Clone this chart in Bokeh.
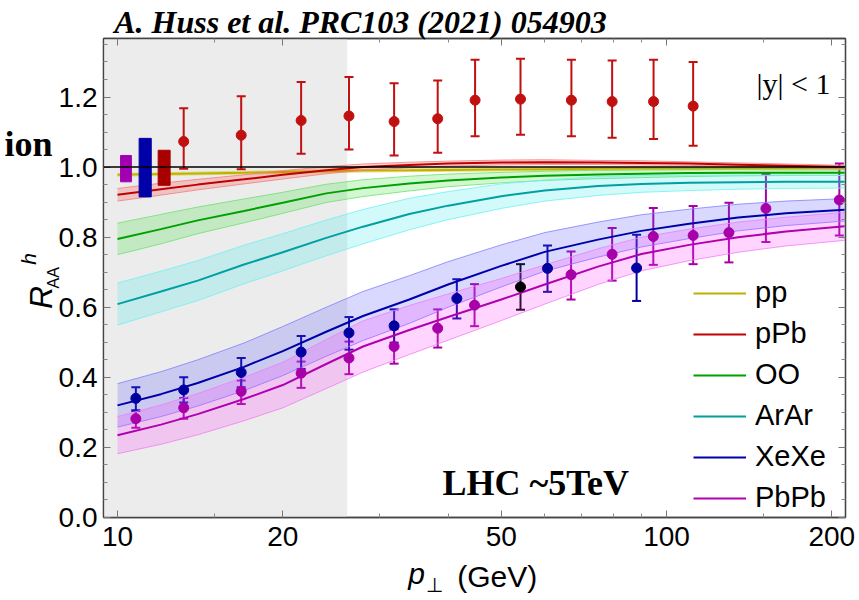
import numpy as np
from bokeh.plotting import figure
from bokeh.models import (LogAxis, LinearAxis, FixedTicker, PrintfTickFormatter, Label,
                          Span, BoxAnnotation, Whisker, TeeHead, ColumnDataSource, Legend,
                          LegendItem, Range1d)
from bokeh.embed import file_html
from bokeh.resources import INLINE

# ---------------- data ----------------
pt_curve = [10, 12, 14, 17, 20, 24, 28, 34, 40, 50, 60, 75, 90, 110, 135, 165, 211]

pp_c   = [0.978, 0.980, 0.982, 0.984, 0.986, 0.988, 0.990, 0.991, 0.992, 0.993, 0.994, 0.995, 0.996, 0.996, 0.997, 0.997, 0.997]
pp_hw  = [0.004] * 17

ppb_c  = [0.921, 0.937, 0.950, 0.965, 0.978, 0.991, 1.000, 1.006, 1.010, 1.013, 1.014, 1.013, 1.012, 1.010, 1.007, 1.004, 1.000]
ppb_hw = [0.018, 0.017, 0.015, 0.013, 0.012, 0.010, 0.009, 0.008, 0.007, 0.007, 0.007, 0.006, 0.006, 0.005, 0.005, 0.005, 0.005]

oo_c   = [0.795, 0.823, 0.848, 0.875, 0.898, 0.925, 0.940, 0.953, 0.962, 0.970, 0.975, 0.979, 0.981, 0.983, 0.984, 0.984, 0.984]
oo_hw  = [0.045, 0.042, 0.038, 0.034, 0.030, 0.026, 0.024, 0.021, 0.018, 0.015, 0.013, 0.012, 0.011, 0.010, 0.009, 0.008, 0.008]

arar_c  = [0.609, 0.645, 0.676, 0.722, 0.757, 0.798, 0.830, 0.866, 0.890, 0.917, 0.933, 0.946, 0.952, 0.955, 0.957, 0.958, 0.958]
arar_hw = [0.060, 0.058, 0.057, 0.055, 0.053, 0.051, 0.049, 0.045, 0.040, 0.035, 0.030, 0.027, 0.024, 0.022, 0.020, 0.019, 0.018]

xexe_c  = [0.320, 0.352, 0.384, 0.430, 0.475, 0.530, 0.575, 0.622, 0.665, 0.718, 0.758, 0.793, 0.818, 0.838, 0.856, 0.868, 0.878]
xexe_hw = [0.062, 0.064, 0.066, 0.068, 0.070, 0.070, 0.070, 0.068, 0.065, 0.060, 0.055, 0.050, 0.046, 0.042, 0.038, 0.035, 0.032]

pbpb_c  = [0.235, 0.265, 0.295, 0.338, 0.378, 0.438, 0.488, 0.535, 0.572, 0.622, 0.665, 0.716, 0.752, 0.778, 0.800, 0.816, 0.831]
pbpb_hw = [0.053, 0.056, 0.059, 0.062, 0.065, 0.070, 0.073, 0.070, 0.066, 0.060, 0.056, 0.051, 0.048, 0.045, 0.043, 0.041, 0.040]

# data points
ppb_pt  = [13.2, 16.8, 21.6, 26.4, 31.9, 38.3, 44.8, 54.2, 67.1, 79.6, 94.7, 111.8]
ppb_val = [1.073, 1.091, 1.133, 1.146, 1.130, 1.138, 1.191, 1.194, 1.191, 1.187, 1.187, 1.174]
ppb_lo  = [0.995, 0.994, 1.038, 1.050, 1.033, 1.041, 1.088, 1.092, 1.088, 1.084, 1.080, 1.061]
ppb_hi  = [1.168, 1.202, 1.243, 1.257, 1.239, 1.247, 1.306, 1.309, 1.306, 1.304, 1.306, 1.300]

xexe_pt  = [10.8, 13.2, 16.8, 21.6, 26.4, 31.9, 41.5, 60.7, 88.2]
xexe_val = [0.340, 0.364, 0.414, 0.472, 0.527, 0.547, 0.625, 0.711, 0.712]
xexe_lo  = [0.306, 0.328, 0.372, 0.424, 0.479, 0.499, 0.568, 0.644, 0.618]
xexe_hi  = [0.372, 0.400, 0.455, 0.518, 0.572, 0.594, 0.680, 0.776, 0.807]

pbpb_pt  = [10.8, 13.2, 16.8, 21.6, 26.4, 31.9, 38.3, 44.7, 67.0, 79.6, 94.6, 111.8, 129.9, 151.7, 206.4]
pbpb_val = [0.282, 0.313, 0.360, 0.412, 0.455, 0.488, 0.540, 0.606, 0.693, 0.751, 0.802, 0.805, 0.813, 0.882, 0.906]
pbpb_lo  = [0.256, 0.282, 0.324, 0.370, 0.409, 0.439, 0.485, 0.546, 0.622, 0.676, 0.721, 0.723, 0.728, 0.786, 0.805]
pbpb_hi  = [0.304, 0.341, 0.391, 0.445, 0.502, 0.537, 0.594, 0.666, 0.759, 0.826, 0.883, 0.889, 0.898, 0.980, 1.010]

other_pt  = [54.2]
other_val = [0.658]
other_lo  = [0.593]
other_hi  = [0.723]

# normalisation boxes (PbPb, XeXe, pPb)
norm_left   = [10.13, 10.95, 11.86]
norm_right  = [10.60, 11.52, 12.47]
norm_bottom = [0.958, 0.915, 0.948]
norm_top    = [1.033, 1.082, 1.048]
norm_colors = ["#a000b0", "#0000a8", "#a80000"]

shade_upto = 26.2

systems = ["pp", "pPb", "OO", "ArAr", "XeXe", "PbPb"]
x_major = [10, 20, 50, 100, 200]
x_minor = [15, 30, 40, 60, 70, 80, 90, 150]
y_major = [0.0, 0.2, 0.4, 0.6, 0.8, 1.0, 1.2]
y_minor = [0.05, 0.1, 0.15, 0.25, 0.3, 0.35, 0.45, 0.5, 0.55, 0.65, 0.7, 0.75,
           0.85, 0.9, 0.95, 1.05, 1.1, 1.15, 1.25, 1.3, 1.35]

title_text = "A. Huss et al. PRC103 (2021) 054903"

# ---------------- figure ----------------
p = figure(width=859, height=600, x_axis_type="log",
           x_range=Range1d(9.43, 211.8), y_range=Range1d(0, 1.367),
           output_backend="svg", toolbar_location=None,
           min_border_left=103, min_border_right=14, min_border_top=35, min_border_bottom=83)
p.xgrid.visible = False
p.ygrid.visible = False
p.outline_line_color = "#444444"
p.outline_line_width = 1.3
p.background_fill_color = "white"

p.add_layout(BoxAnnotation(right=shade_upto, fill_color="#ececec", fill_alpha=1.0,
                           line_alpha=0, level="underlay"))

band_fill = ["#e0e000", "#ff3030", "#30e030", "#30e8e8", "#5050ff", "#ff40ff"]
band_edge = ["#d8d860", "#f08080", "#70e070", "#70f0f0", "#8080ff", "#f080f0"]
line_col  = ["#c0b000", "#c00000", "#00a000", "#00a0a0", "#0000a8", "#b000b0"]
centers = [pp_c, ppb_c, oo_c, arar_c, xexe_c, pbpb_c]
halfws = [pp_hw, ppb_hw, oo_hw, arar_hw, xexe_hw, pbpb_hw]

line_renderers = []
for name, c, hw, bf, be, lc in zip(systems, centers, halfws, band_fill, band_edge, line_col):
    c = np.array(c)
    hw = np.array(hw)
    p.varea(x=pt_curve, y1=c - hw, y2=c + hw, fill_color=bf, fill_alpha=0.22)
    p.line(pt_curve, c - hw, line_color=be, line_width=1, line_alpha=0.8)
    p.line(pt_curve, c + hw, line_color=be, line_width=1, line_alpha=0.8)
    r = p.line(pt_curve, c, line_color=lc, line_width=2)
    line_renderers.append(r)

p.add_layout(Span(location=1.0, dimension="width", line_color="black", line_width=1.5))

p.quad(left=norm_left, right=norm_right, bottom=norm_bottom, top=norm_top,
       fill_color=norm_colors, line_color=norm_colors)

def points(xs, ys, lo, hi, color):
    src = ColumnDataSource(dict(x=xs, y=ys, lo=lo, hi=hi))
    w = Whisker(source=src, base="x", lower="lo", upper="hi", line_color=color, line_width=2,
                upper_head=TeeHead(size=9, line_color=color, line_width=2),
                lower_head=TeeHead(size=9, line_color=color, line_width=2))
    p.add_layout(w)
    p.scatter("x", "y", source=src, size=10, marker="circle", fill_color=color, line_color=color)

points(ppb_pt, ppb_val, ppb_lo, ppb_hi, "#c01010")
points(pbpb_pt, pbpb_val, pbpb_lo, pbpb_hi, "#a800a8")
points(xexe_pt, xexe_val, xexe_lo, xexe_hi, "#0000a0")
points(other_pt, other_val, other_lo, other_hi, "#000000")

# ---------------- axes ----------------
def style_ticks(ax):
    ax.axis_line_color = "#444444"
    ax.axis_line_width = 1.3
    ax.major_tick_in = 7
    ax.major_tick_out = 0
    ax.minor_tick_in = 4
    ax.minor_tick_out = 0
    ax.major_tick_line_color = "#777777"
    ax.minor_tick_line_color = "#888888"

xaxis = p.xaxis[0]
yaxis = p.yaxis[0]
xaxis.ticker = FixedTicker(ticks=x_major, minor_ticks=x_minor)
xaxis.formatter = PrintfTickFormatter(format="%d")
yaxis.ticker = FixedTicker(ticks=y_major, minor_ticks=y_minor)
yaxis.formatter = PrintfTickFormatter(format="%.1f")
for ax in (xaxis, yaxis):
    style_ticks(ax)
    ax.major_label_text_font = "Liberation Sans"
    ax.major_label_text_font_size = "28px"
    ax.major_label_text_color = "black"
xaxis.major_label_standoff = 9
yaxis.major_label_standoff = 6

top_ax = LogAxis(ticker=FixedTicker(ticks=x_major, minor_ticks=x_minor))
right_ax = LinearAxis(ticker=FixedTicker(ticks=y_major, minor_ticks=y_minor))
for ax in (top_ax, right_ax):
    style_ticks(ax)
    ax.major_label_text_color = None
    ax.major_label_standoff = 0
p.add_layout(top_ax, "above")
p.add_layout(right_ax, "right")

# text carried by label-only axes (not clipped by the frame)
def text_axis(side, pos, text, font, size, style, standoff, orient="horizontal"):
    ax = LogAxis() if side in ("above", "below") else LinearAxis()
    ax.ticker = FixedTicker(ticks=[pos], minor_ticks=[])
    ax.major_label_overrides = {pos: text}
    ax.axis_line_color = None
    ax.major_tick_line_color = None
    ax.minor_tick_line_color = None
    ax.major_tick_in = 0
    ax.major_tick_out = 0
    ax.minor_tick_in = 0
    ax.minor_tick_out = 0
    ax.major_label_text_font = font
    ax.major_label_text_font_size = size
    ax.major_label_text_font_style = style
    ax.major_label_text_color = "black"
    ax.major_label_standoff = standoff
    ax.major_label_orientation = orient
    p.add_layout(ax, side)

# title above
text_axis("above", 27.7, title_text, "Liberation Serif", "32px", "bold italic", -1)
# y label pieces and the cut word on the left
text_axis("left", 0.684, "AA", "Liberation Sans", "16px", "normal", -7, "vertical")
text_axis("left", 0.628, "R", "Liberation Sans", "32px", "italic", -17, "vertical")
text_axis("left", 0.738, "h", "Liberation Sans", "21px", "italic", -20, "vertical")
text_axis("left", 1.066, "ion", "Liberation Serif", "36px", "bold", -38)
# x label pieces below
text_axis("below", 35.05, "p", "Liberation Sans", "30px", "italic", 8)
text_axis("below", 49.16, "(GeV)", "Liberation Sans", "30px", "normal", -33)
text_axis("below", 37.8, "⊥", "DejaVu Sans", "20px", "normal", -23)

# ---------------- legend ----------------
items = [LegendItem(label=s, renderers=[r]) for s, r in zip(systems, line_renderers)]
legend = Legend(items=items, location=(590, 3), orientation="vertical",
                label_text_font="Liberation Sans", label_text_font_size="29px",
                label_text_color="black", glyph_width=53, glyph_height=30,
                label_height=30, label_standoff=9, spacing=8, padding=0, margin=0,
                border_line_color=None, background_fill_alpha=0)
p.add_layout(legend)

# ---------------- in-frame texts ----------------
p.add_layout(Label(x=727, y=434, x_units="screen", y_units="screen", text="|y| < 1",
                   text_font="Liberation Serif", text_font_size="30px", text_align="right",
                   text_baseline="alphabetic", text_color="black"))
p.add_layout(Label(x=339, y=35, x_units="screen", y_units="screen", text="LHC ~5TeV",
                   text_font="Liberation Serif", text_font_size="36px", text_font_style="bold",
                   text_align="left", text_baseline="alphabetic", text_color="black"))

open("out.html", "w").write(file_html(p, INLINE))
